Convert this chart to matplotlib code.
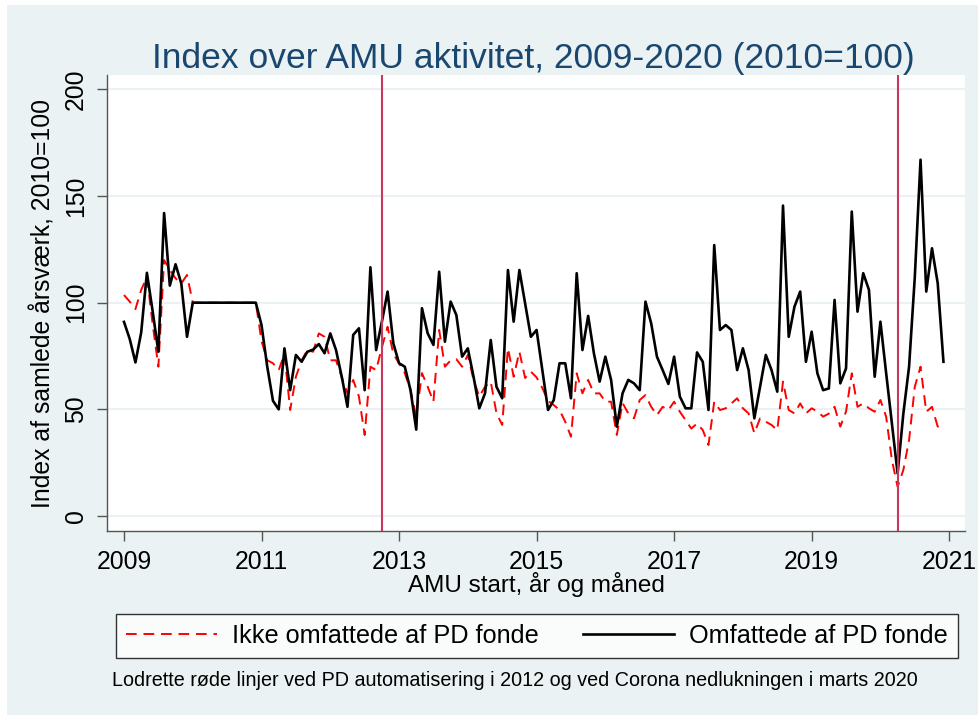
import numpy as np
import matplotlib
matplotlib.use("Agg")
from matplotlib import pyplot as plt
from matplotlib.patches import Rectangle

plt.rcParams['font.family'] = ['Liberation Sans', 'DejaVu Sans']

start_year = 2009
n_months = 144

# Ikke omfattede af PD fonde (index, 2010=100), one row per year
ikke = [
    103.6, 100.5, 97, 106, 112, 90, 70, 120, 115.3, 111.4, 109, 113,
    100, 100, 100, 100, 100, 100, 100, 100, 100, 100, 100, 100,
    82, 73, 71.6, 68.4, 76, 49.7, 65.3, 73, 77.8, 77, 85.6, 84,
    73, 73, 65, 57.5, 63.8, 56, 38, 70, 68.4, 79, 88.7, 76,
    71.6, 67, 59, 46.5, 67, 60.6, 53.6, 87.2, 70, 73, 73.5, 70,
    75.5, 63.8, 56, 60.6, 63, 48.2, 42.7, 78.6, 65.3, 77, 64.7, 67.7,
    65, 60, 54, 52, 49.7, 44.2, 37.2, 66.9, 57.5, 63.8, 57.5, 57.5,
    53.6, 53.6, 38, 53, 48.1, 45.8, 54.4, 56.7, 51.2, 47.3, 51.2, 49.7,
    53.6, 48.9, 45, 41, 43.4, 40.3, 33.3, 53.6, 49.7, 50.5, 52.8, 55.2,
    50.5, 48.1, 38.8, 45.8, 44.2, 42.7, 40.3, 63, 49.7, 48.1, 52.8, 48.1,
    50.5, 49, 46.6, 48, 51.2, 41.9, 49, 66.9, 51.2, 52.8, 50.5, 48.9,
    54.4, 46.6, 26.3, 13.7, 21.6, 35.6, 60.6, 70, 48.9, 51.2, 41.9, 44.2,
]

# Omfattede af PD fonde
omf = [
    91, 83, 72, 86, 114, 96, 77, 142, 108, 118, 109, 84,
    100, 100, 100, 100, 100, 100, 100, 100, 100, 100, 100, 100,
    89.5, 70, 54, 50, 78.6, 59, 75.5, 72.3, 77, 78, 80.6, 76.3,
    85.6, 77.8, 65.3, 51.2, 84.9, 88, 59, 116.6, 77.8, 91, 105.2, 81,
    71.6, 70, 59, 40.5, 97.4, 85.6, 80.2, 114.5, 81.7, 100.5, 94.2, 74.7,
    78.6, 65.3, 50.5, 57.5, 82.5, 60.6, 55.2, 115.3, 91.1, 115.3, 99.7, 84,
    87.2, 68.4, 49.7, 54.4, 71.6, 71.6, 55.2, 113.8, 77.8, 93.8, 76.3, 63,
    74.7, 63.8, 41.9, 57.5, 63.8, 62.2, 59, 100.5, 90.3, 74.7, 68.4, 61.9,
    74.7, 56, 50.5, 50.5, 76.7, 72.3, 49.7, 127, 87.2, 89.5, 87.2, 68.4,
    78.6, 68.4, 45.8, 60.6, 75.5, 68.4, 58.3, 145.5, 84, 98.1, 105.2, 72.3,
    86.4, 66.9, 59, 59.8, 101.3, 62.2, 69.2, 142.7, 95.8, 113.8, 106, 65.3,
    91.1, 67, 43.6, 20, 48, 70, 112, 167, 105.2, 125.5, 109.1, 72.3,
]

# PD automatisering (okt 2012) and Corona nedlukning (2020)
events = [2012.75, 2020.25]

x_ticks = [2009, 2011, 2013, 2015, 2017, 2019, 2021]
y_ticks = [0, 50, 100, 150, 200]

t = start_year + np.arange(n_months) / 12

bg = '#EAF2F3'
W, H = 979, 715
fig = plt.figure(figsize=(W / 100, H / 100), dpi=100, facecolor='white')
fig.patches.append(Rectangle((7 / W, 0), 1 - 7 / W, 1 - 5 / H, transform=fig.transFigure,
                             facecolor=bg, edgecolor='none', zorder=-10))

ax = fig.add_axes([107 / W, (H - 531) / H, (965 - 107) / W, (531 - 75) / H])
ax.set_facecolor('white')

ax.plot(t, ikke, color='#FF0000', lw=1.4, ls=(0, (5.5, 3.5)), label='Ikke omfattede af PD fonde', zorder=2)
ax.plot(t, omf, color='black', lw=1.9, label='Omfattede af PD fonde', zorder=2.5)
for ev in events:
    ax.axvline(ev, color='#C8375E', lw=1.5, zorder=3)

ax.set_xlim(2008.753, 2021.23)
ax.set_ylim(-7, 206.7)
ax.set_xticks(x_ticks)
ax.set_yticks(y_ticks)
ax.grid(axis='y', color=bg, lw=1.5, zorder=0)
ax.set_axisbelow(True)

for s in ['top', 'right']:
    ax.spines[s].set_visible(False)
for s in ['left', 'bottom']:
    ax.spines[s].set_color('#555555')
    ax.spines[s].set_linewidth(1.0)

ax.tick_params(axis='both', direction='out', length=7.5, width=1.0, color='#555555',
               labelsize=17.8, labelcolor='black')
ax.tick_params(axis='x', pad=6)
ax.tick_params(axis='y', pad=6)
for lab in ax.get_yticklabels():
    lab.set_rotation(90)
    lab.set_va('center')

ax.set_xlabel('AMU start, år og måned', fontsize=17.5, labelpad=-1)
ax.set_ylabel('Index af samlede årsværk, 2010=100', fontsize=17.8, labelpad=6)

fig.suptitle('Index over AMU aktivitet, 2009-2020 (2010=100)', x=0.545, y=1 - 68 / H,
             va='baseline', fontsize=25.5, color='#1A476F')

leg = fig.legend(loc='center left', bbox_to_anchor=(116 / W, 1 - 636 / H), ncol=2,
                 fontsize=18.2, frameon=True, fancybox=False, handlelength=3.6,
                 handletextpad=0.6, columnspacing=1.75, borderpad=0.4, borderaxespad=0)
leg.get_frame().set_edgecolor('black')
leg.get_frame().set_linewidth(1.0)
leg.get_frame().set_facecolor('white')

fig.text(112 / W, 1 - 680 / H,
         'Lodrette røde linjer ved PD automatisering i 2012 og ved Corona nedlukningen i marts 2020',
         fontsize=14.2, va='center', ha='left')

fig.savefig('out.png', dpi=100, facecolor=fig.get_facecolor())
